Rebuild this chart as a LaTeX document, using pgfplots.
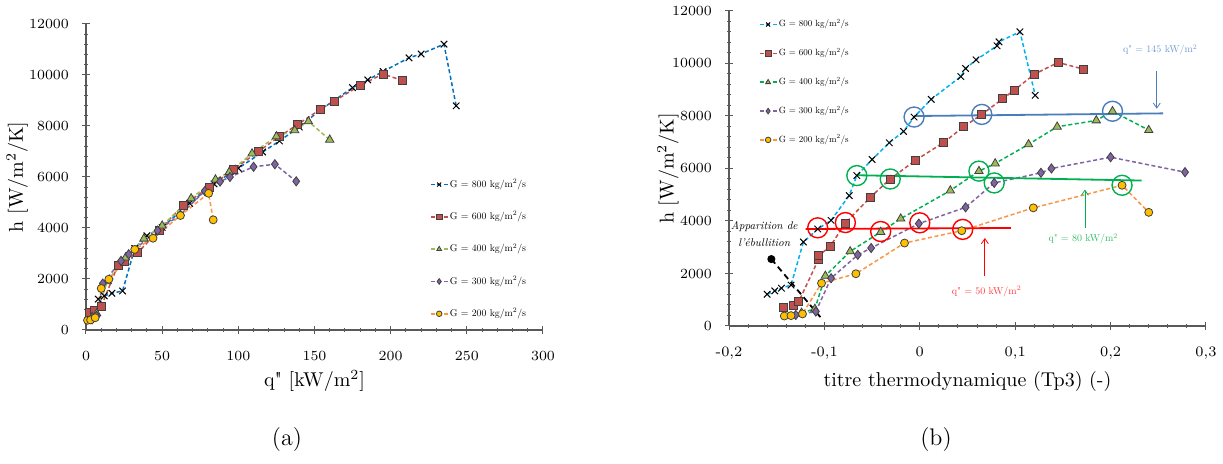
\documentclass[border=0pt]{standalone}
\usepackage{graphicx}
\usepackage{pgfplots}
\pgfplotsset{compat=1.18}
\usetikzlibrary{arrows.meta}
\definecolor{c800a}{HTML}{0070C0}
\definecolor{c800b}{HTML}{00B0F0}
\definecolor{c600}{HTML}{C0504D}
\definecolor{c400a}{HTML}{9BBB59}
\definecolor{c400b}{HTML}{00B050}
\definecolor{c400m}{HTML}{9BBB59}
\definecolor{c300}{HTML}{8064A2}
\definecolor{c200}{HTML}{F79646}
\definecolor{c200m}{HTML}{FFC000}
\definecolor{annB}{HTML}{4A7EBB}
\definecolor{annBt}{HTML}{6F9BD1}
\definecolor{annG}{HTML}{00B050}
\definecolor{annGt}{HTML}{33BB66}
\definecolor{annR}{HTML}{FF0000}
\definecolor{annRt}{HTML}{FF3B3B}
\definecolor{axgray}{HTML}{595959}
\newcommand{\lgt}[1]{\scalebox{0.49}{\fontsize{10}{12}\selectfont G = #1 kg/m\textsuperscript{2}/s}}
\newcommand{\lgr}[1]{\scalebox{0.45}{\fontsize{10}{12}\selectfont G = #1 kg/m\textsuperscript{2}/s}}
\newcommand{\ann}[1]{\scalebox{0.5}{\fontsize{10}{12}\selectfont q\textquotedbl{} = #1 kW/m\textsuperscript{2}}}
\pgfplotsset{
  myax/.style={
    scale only axis,
    axis lines*=left,
    axis line style={draw=axgray, line width=0.6pt},
    tick align=center,
    major tick length=4pt,
    minor tick length=2pt,
    every tick/.style={draw=axgray, line width=0.5pt},
    minor tick num=4,
    ymin=0, ymax=12000,
    ytick={0,2000,...,12000},
    scaled y ticks=false,
    yticklabel style={/pgf/number format/1000 sep={}, font=\fontsize{7.2}{8}\selectfont, xshift=-3pt},
    xticklabel style={font=\fontsize{7.2}{8}\selectfont, yshift=-5pt},
    label style={font=\fontsize{8.5}{10}\selectfont},
    clip=false,
    legend cell align=left,
    legend image code/.code={\draw[mark repeat=2, mark phase=2, #1, mark size=1.4pt] plot coordinates {(0pt,0pt)(4.2pt,0pt)(8.4pt,0pt)};},
  },
  dsh/.style={dash pattern=on 2pt off 1.3pt, line width=0.75pt},
  m800/.style={mark=x, mark size=2.3pt, mark options={solid, draw=black, line width=0.5pt}},
  m600/.style={mark=square*, mark size=2pt, mark options={solid, fill=c600, draw=black!75, line width=0.4pt}},
  m400/.style={mark=triangle*, mark size=2.4pt, mark options={solid, fill=c400m, draw=black!75, line width=0.4pt}},
  m300/.style={mark=diamond*, mark size=2.3pt, mark options={solid, fill=c300, draw=black!75, line width=0.4pt}},
  m200/.style={mark=*, mark size=2pt, mark options={solid, fill=c200m, draw=black!75, line width=0.4pt}},
  ring/.style={only marks, mark=o, mark size=5pt, mark options={solid, line width=0.7pt}, forget plot},
}
\begin{document}
\begin{tikzpicture}
\path[use as bounding box] (0,0) rectangle (611.5pt,232pt);
% ---------- (a) ----------
\begin{axis}[myax,
  at={(43pt,67pt)}, anchor=south west,
  width=228.5pt, height=153pt,
  xmin=0, xmax=300, xtick={0,50,...,300},
  xlabel={q\textquotedbl{} [kW/m\textsuperscript{2}]},
  ylabel={h [W/m\textsuperscript{2}/K]},
  every axis x label/.style={at={(axis description cs:0.5,-0.167)}, anchor=center},
  every axis y label/.style={at={(axis description cs:-0.151,0.5)}, rotate=90, anchor=center},
  legend style={draw=none, fill=none, at={(0.752,0.5)}, anchor=north west, row sep=9pt, inner sep=0pt, nodes={inner sep=0.8pt}},
]
\addplot[c800a, dsh, m800] coordinates {(8,1210)(12,1337)(17,1440)(24,1530)(32,3198)(40,3695)(50,4024)(68,4967)(84,5730)(100,6343)(116,6980)(127,7413)(140,7960)(154,8636)(175,9503)(185,9808)(195,10138)(212,10673)(220,10826)(235,11208)(243,8789)};
\addlegendentry{\lgt{800}}
\addplot[c600, dsh, m600] coordinates {(2.5,700)(5.5,780)(10,920)(21,2550)(25,2680)(34,3030)(48,3920)(64,4900)(81,5600)(97,6300)(113,6990)(127,7590)(139,8060)(154,8660)(163,8980)(180,9590)(195,10040)(208,9780)};
\addlegendentry{\lgt{600}}
\addplot[c400a, dsh, m400] coordinates {(4,500)(7,650)(14,1910)(26,2840)(38,3580)(50,4090)(69,5160)(85,5900)(94,6190)(109,6920)(125,7590)(137,7830)(146,8180)(160,7460)};
\addlegendentry{\lgt{400}}
\addplot[c300, dsh, m300] coordinates {(4,420)(7,550)(11,1820)(23,2710)(28,2970)(47,3900)(62,4520)(78,5450)(88,5820)(94.5,6000)(110,6400)(124,6500)(138,5830)};
\addlegendentry{\lgt{300}}
\addplot[c200, dsh, m200] coordinates {(1,380)(3,395)(6,480)(10,1630)(15,1990)(32,3160)(44,3600)(62,4490)(80.5,5360)(83.5,4320)};
\addlegendentry{\lgt{200}}
\end{axis}
% ---------- (b) ----------
\begin{axis}[myax,
  at={(364.5pt,69pt)}, anchor=south west,
  width=238.5pt, height=157.5pt,
  xmin=-0.2, xmax=0.3, xtick={-0.2,-0.1,0,0.1,0.2,0.3},
  xticklabels={{-0,2},{-0,1},0,{0,1},{0,2},{0,3}},
  xlabel={titre thermodynamique (Tp3) (-)},
  ylabel={h [W/m\textsuperscript{2}/K]},
  every axis x label/.style={at={(axis description cs:0.5,-0.175)}, anchor=center},
  every axis y label/.style={at={(axis description cs:-0.128,0.5)}, rotate=90, anchor=center},
  legend style={draw=none, fill=none, at={(0.062,0.98)}, anchor=north west, row sep=7.6pt, inner sep=0pt, nodes={inner sep=0.8pt}},
]
\addplot[c800b, dsh, m800] coordinates {(-0.160,1210)(-0.152,1337)(-0.145,1440)(-0.135,1560)(-0.122,3198)(-0.107,3695)(-0.093,4024)(-0.074,4967)(-0.066,5730)(-0.050,6343)(-0.032,6980)(-0.017,7413)(-0.006,7960)(0.012,8636)(0.043,9503)(0.048,9808)(0.059,10138)(0.081,10673)(0.083,10826)(0.105,11208)(0.121,8789)};
\addlegendentry{\lgr{800}}
\addplot[c600, dsh, m600] coordinates {(-0.143,700)(-0.132,780)(-0.127,920)(-0.106,2550)(-0.106,2680)(-0.094,3030)(-0.078,3920)(-0.052,4900)(-0.031,5600)(-0.005,6300)(0.025,6990)(0.046,7590)(0.065,8060)(0.087,8660)(0.099,8980)(0.120,9590)(0.145,10040)(0.172,9780)};
\addlegendentry{\lgr{600}}
\addplot[c400b, dsh, m400] coordinates {(-0.124,500)(-0.110,650)(-0.099,1910)(-0.073,2840)(-0.041,3580)(-0.020,4090)(0.032,5160)(0.062,5900)(0.079,6190)(0.114,6920)(0.144,7590)(0.185,7830)(0.202,8180)(0.240,7460)};
\addlegendentry{\lgr{400}}
\addplot[c300, dsh, m300] coordinates {(-0.130,420)(-0.109,550)(-0.093,1820)(-0.065,2710)(-0.051,2970)(-0.001,3900)(0.048,4520)(0.078,5450)(0.127,5835)(0.138,6000)(0.200,6430)(0.278,5860)};
\addlegendentry{\lgr{300}}
\addplot[c200, dsh, m200] coordinates {(-0.142,380)(-0.135,395)(-0.123,460)(-0.103,1630)(-0.067,1990)(-0.016,3160)(0.044,3630)(0.119,4500)(0.212,5360)(0.240,4330)};
\addlegendentry{\lgr{200}}
% annotations q''=145
\addplot[annB, line width=0.9pt, forget plot] coordinates {(-0.006,7998)(0.255,8100)};
\addplot[ring, annB] coordinates {(-0.006,7960)(0.065,8060)(0.202,8180)};
\addplot[annB, line width=0.4pt, -{Straight Barb[length=2.5pt,width=3.5pt]}, forget plot] coordinates {(0.2484,9718)(0.2484,8279)};
\node[annBt] at (axis cs:0.252,10520) {\ann{145}};
% q''=80
\addplot[annG, line width=0.9pt, forget plot] coordinates {(-0.0665,5743)(0.2326,5541)};
\addplot[ring, annG] coordinates {(-0.066,5730)(-0.031,5600)(0.062,5900)(0.078,5450)(0.212,5360)};
\addplot[annG, line width=0.4pt, -{Straight Barb[length=2.5pt,width=3.5pt]}, forget plot] coordinates {(0.1731,3733)(0.1731,5197)};
\node[annGt] at (axis cs:0.1714,3313) {\ann{80}};
% q''=50
\addplot[annR, line width=0.9pt, forget plot] coordinates {(-0.1196,3695)(0.0955,3733)};
\addplot[ring, annR] coordinates {(-0.107,3740)(-0.078,3940)(-0.041,3600)(0.000,3930)(0.045,3680)};
\addplot[annR, line width=0.4pt, -{Straight Barb[length=2.5pt,width=3.5pt]}, forget plot] coordinates {(0.0682,1911)(0.0682,3351)};
\node[annRt] at (axis cs:0.070,1311) {\ann{50}};
% Apparition de l'ebullition
\addplot[black, line width=0.9pt, dash pattern=on 3pt off 2pt, forget plot] coordinates {(-0.1556,2549)(-0.1032,294)};
\addplot[only marks, mark=*, mark size=1.8pt, black, forget plot] coordinates {(-0.1556,2549)};
\node[inner sep=0pt] at (axis cs:-0.163,3480) {\scalebox{0.56}{\fontsize{10}{15}\selectfont\itshape\begin{tabular}{@{}c@{}}Apparition de\\l'ébullition\end{tabular}}};
\end{axis}
\node[font=\fontsize{12}{14}\selectfont] at (143.5pt,12pt) {(a)};
\node[font=\fontsize{12}{14}\selectfont] at (468pt,12pt) {(b)};
\end{tikzpicture}
\end{document}
